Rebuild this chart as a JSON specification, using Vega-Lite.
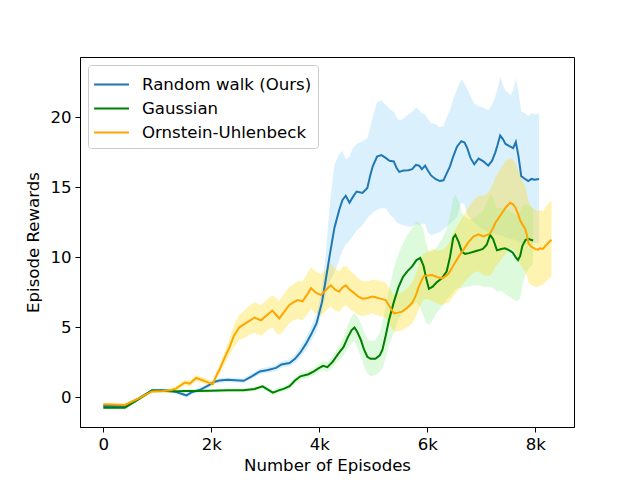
{
  "$schema": "https://vega.github.io/schema/vega-lite/v6.json",
  "width": 494,
  "height": 370,
  "autosize": {"type": "none"},
  "padding": {"left": 80, "top": 57, "right": 66, "bottom": 53},
  "background": "white",
  "data": {
    "values": [
      {"series": "Random walk (Ours)", "episode": 0, "reward": -0.62, "lower": -0.74, "upper": -0.5},
      {"series": "Random walk (Ours)", "episode": 400, "reward": -0.62, "lower": -0.74, "upper": -0.5},
      {"series": "Random walk (Ours)", "episode": 650, "reward": -0.1, "lower": -0.22, "upper": 0.02},
      {"series": "Random walk (Ours)", "episode": 900, "reward": 0.48, "lower": 0.36, "upper": 0.6},
      {"series": "Random walk (Ours)", "episode": 1100, "reward": 0.5, "lower": 0.37, "upper": 0.63},
      {"series": "Random walk (Ours)", "episode": 1300, "reward": 0.45, "lower": 0.32, "upper": 0.6},
      {"series": "Random walk (Ours)", "episode": 1450, "reward": 0.25, "lower": 0.1, "upper": 0.4},
      {"series": "Random walk (Ours)", "episode": 1540, "reward": 0.14, "lower": -0.01, "upper": 0.3},
      {"series": "Random walk (Ours)", "episode": 1650, "reward": 0.38, "lower": 0.23, "upper": 0.53},
      {"series": "Random walk (Ours)", "episode": 1800, "reward": 0.55, "lower": 0.4, "upper": 0.7},
      {"series": "Random walk (Ours)", "episode": 1950, "reward": 0.85, "lower": 0.7, "upper": 1.0},
      {"series": "Random walk (Ours)", "episode": 2050, "reward": 1.1, "lower": 0.95, "upper": 1.27},
      {"series": "Random walk (Ours)", "episode": 2150, "reward": 1.2, "lower": 1.03, "upper": 1.37},
      {"series": "Random walk (Ours)", "episode": 2300, "reward": 1.25, "lower": 1.08, "upper": 1.42},
      {"series": "Random walk (Ours)", "episode": 2450, "reward": 1.22, "lower": 1.05, "upper": 1.4},
      {"series": "Random walk (Ours)", "episode": 2600, "reward": 1.18, "lower": 1.0, "upper": 1.36},
      {"series": "Random walk (Ours)", "episode": 2750, "reward": 1.5, "lower": 1.3, "upper": 1.7},
      {"series": "Random walk (Ours)", "episode": 2900, "reward": 1.85, "lower": 1.65, "upper": 2.05},
      {"series": "Random walk (Ours)", "episode": 3050, "reward": 1.95, "lower": 1.75, "upper": 2.17},
      {"series": "Random walk (Ours)", "episode": 3200, "reward": 2.1, "lower": 1.88, "upper": 2.32},
      {"series": "Random walk (Ours)", "episode": 3300, "reward": 2.35, "lower": 2.12, "upper": 2.58},
      {"series": "Random walk (Ours)", "episode": 3450, "reward": 2.45, "lower": 2.2, "upper": 2.72},
      {"series": "Random walk (Ours)", "episode": 3550, "reward": 2.75, "lower": 2.45, "upper": 3.05},
      {"series": "Random walk (Ours)", "episode": 3650, "reward": 3.2, "lower": 2.82, "upper": 3.62},
      {"series": "Random walk (Ours)", "episode": 3750, "reward": 3.8, "lower": 3.35, "upper": 4.28},
      {"series": "Random walk (Ours)", "episode": 3850, "reward": 4.5, "lower": 3.98, "upper": 5.05},
      {"series": "Random walk (Ours)", "episode": 3950, "reward": 5.3, "lower": 4.7, "upper": 5.95},
      {"series": "Random walk (Ours)", "episode": 4050, "reward": 6.8, "lower": 6.1, "upper": 7.8},
      {"series": "Random walk (Ours)", "episode": 4120, "reward": 8.4, "lower": 7.2, "upper": 10.3},
      {"series": "Random walk (Ours)", "episode": 4200, "reward": 10.3, "lower": 8.3, "upper": 14.0},
      {"series": "Random walk (Ours)", "episode": 4280, "reward": 12.1, "lower": 8.9, "upper": 16.6},
      {"series": "Random walk (Ours)", "episode": 4370, "reward": 13.4, "lower": 9.8, "upper": 17.4},
      {"series": "Random walk (Ours)", "episode": 4430, "reward": 14.1, "lower": 10.5, "upper": 17.6},
      {"series": "Random walk (Ours)", "episode": 4490, "reward": 14.4, "lower": 10.9, "upper": 17.0},
      {"series": "Random walk (Ours)", "episode": 4560, "reward": 13.9, "lower": 11.2, "upper": 17.2},
      {"series": "Random walk (Ours)", "episode": 4620, "reward": 14.3, "lower": 11.5, "upper": 17.8},
      {"series": "Random walk (Ours)", "episode": 4690, "reward": 14.7, "lower": 11.9, "upper": 18.1},
      {"series": "Random walk (Ours)", "episode": 4800, "reward": 14.6, "lower": 12.3, "upper": 18.3},
      {"series": "Random walk (Ours)", "episode": 4890, "reward": 14.95, "lower": 12.8, "upper": 18.5},
      {"series": "Random walk (Ours)", "episode": 4940, "reward": 15.8, "lower": 13.0, "upper": 19.2},
      {"series": "Random walk (Ours)", "episode": 4990, "reward": 16.5, "lower": 13.2, "upper": 20.0},
      {"series": "Random walk (Ours)", "episode": 5070, "reward": 17.2, "lower": 13.4, "upper": 21.1},
      {"series": "Random walk (Ours)", "episode": 5150, "reward": 17.3, "lower": 13.5, "upper": 21.2},
      {"series": "Random walk (Ours)", "episode": 5230, "reward": 17.1, "lower": 13.5, "upper": 20.9},
      {"series": "Random walk (Ours)", "episode": 5300, "reward": 16.9, "lower": 13.1, "upper": 20.6},
      {"series": "Random walk (Ours)", "episode": 5380, "reward": 16.85, "lower": 12.8, "upper": 20.4},
      {"series": "Random walk (Ours)", "episode": 5430, "reward": 16.4, "lower": 12.5, "upper": 20.0},
      {"series": "Random walk (Ours)", "episode": 5480, "reward": 16.1, "lower": 12.4, "upper": 19.8},
      {"series": "Random walk (Ours)", "episode": 5560, "reward": 16.2, "lower": 12.3, "upper": 19.9},
      {"series": "Random walk (Ours)", "episode": 5650, "reward": 16.22, "lower": 12.2, "upper": 20.2},
      {"series": "Random walk (Ours)", "episode": 5720, "reward": 16.3, "lower": 12.2, "upper": 20.4},
      {"series": "Random walk (Ours)", "episode": 5790, "reward": 16.6, "lower": 12.4, "upper": 20.7},
      {"series": "Random walk (Ours)", "episode": 5850, "reward": 16.55, "lower": 12.3, "upper": 20.5},
      {"series": "Random walk (Ours)", "episode": 5900, "reward": 16.3, "lower": 12.4, "upper": 20.3},
      {"series": "Random walk (Ours)", "episode": 5960, "reward": 16.55, "lower": 12.4, "upper": 20.2},
      {"series": "Random walk (Ours)", "episode": 6010, "reward": 16.2, "lower": 11.8, "upper": 19.9},
      {"series": "Random walk (Ours)", "episode": 6070, "reward": 15.85, "lower": 11.6, "upper": 19.6},
      {"series": "Random walk (Ours)", "episode": 6150, "reward": 15.6, "lower": 11.7, "upper": 19.5},
      {"series": "Random walk (Ours)", "episode": 6230, "reward": 15.45, "lower": 11.8, "upper": 19.3},
      {"series": "Random walk (Ours)", "episode": 6300, "reward": 15.5, "lower": 12.0, "upper": 19.4},
      {"series": "Random walk (Ours)", "episode": 6360, "reward": 16.0, "lower": 12.2, "upper": 20.0},
      {"series": "Random walk (Ours)", "episode": 6420, "reward": 16.5, "lower": 12.4, "upper": 20.5},
      {"series": "Random walk (Ours)", "episode": 6480, "reward": 17.2, "lower": 12.6, "upper": 21.3},
      {"series": "Random walk (Ours)", "episode": 6550, "reward": 17.9, "lower": 12.9, "upper": 22.0},
      {"series": "Random walk (Ours)", "episode": 6630, "reward": 18.3, "lower": 13.9, "upper": 22.7},
      {"series": "Random walk (Ours)", "episode": 6690, "reward": 18.2, "lower": 13.8, "upper": 22.4},
      {"series": "Random walk (Ours)", "episode": 6740, "reward": 17.8, "lower": 13.1, "upper": 22.0},
      {"series": "Random walk (Ours)", "episode": 6800, "reward": 17.1, "lower": 12.8, "upper": 21.5},
      {"series": "Random walk (Ours)", "episode": 6870, "reward": 16.65, "lower": 12.5, "upper": 21.0},
      {"series": "Random walk (Ours)", "episode": 6950, "reward": 17.05, "lower": 12.2, "upper": 20.8},
      {"series": "Random walk (Ours)", "episode": 7040, "reward": 16.85, "lower": 12.0, "upper": 20.7},
      {"series": "Random walk (Ours)", "episode": 7130, "reward": 16.55, "lower": 11.8, "upper": 20.5},
      {"series": "Random walk (Ours)", "episode": 7200, "reward": 16.9, "lower": 11.7, "upper": 20.9},
      {"series": "Random walk (Ours)", "episode": 7260, "reward": 17.5, "lower": 11.7, "upper": 21.5},
      {"series": "Random walk (Ours)", "episode": 7300, "reward": 18.0, "lower": 11.6, "upper": 22.0},
      {"series": "Random walk (Ours)", "episode": 7350, "reward": 18.7, "lower": 11.6, "upper": 22.9},
      {"series": "Random walk (Ours)", "episode": 7400, "reward": 18.45, "lower": 11.5, "upper": 22.3},
      {"series": "Random walk (Ours)", "episode": 7450, "reward": 18.1, "lower": 11.4, "upper": 21.9},
      {"series": "Random walk (Ours)", "episode": 7540, "reward": 17.9, "lower": 11.3, "upper": 21.6},
      {"series": "Random walk (Ours)", "episode": 7590, "reward": 17.8, "lower": 11.3, "upper": 21.9},
      {"series": "Random walk (Ours)", "episode": 7640, "reward": 18.25, "lower": 11.2, "upper": 22.8},
      {"series": "Random walk (Ours)", "episode": 7690, "reward": 17.2, "lower": 11.1, "upper": 21.8},
      {"series": "Random walk (Ours)", "episode": 7740, "reward": 15.8, "lower": 11.0, "upper": 20.4},
      {"series": "Random walk (Ours)", "episode": 7810, "reward": 15.6, "lower": 11.0, "upper": 20.3},
      {"series": "Random walk (Ours)", "episode": 7870, "reward": 15.45, "lower": 11.0, "upper": 20.1},
      {"series": "Random walk (Ours)", "episode": 7930, "reward": 15.6, "lower": 11.0, "upper": 20.3},
      {"series": "Random walk (Ours)", "episode": 7990, "reward": 15.55, "lower": 11.0, "upper": 20.2},
      {"series": "Random walk (Ours)", "episode": 8070, "reward": 15.6, "lower": 11.0, "upper": 20.3},
      {"series": "Gaussian", "episode": 0, "reward": -0.74, "lower": -0.86, "upper": -0.62},
      {"series": "Gaussian", "episode": 400, "reward": -0.74, "lower": -0.86, "upper": -0.62},
      {"series": "Gaussian", "episode": 650, "reward": -0.15, "lower": -0.27, "upper": -0.03},
      {"series": "Gaussian", "episode": 900, "reward": 0.48, "lower": 0.36, "upper": 0.6},
      {"series": "Gaussian", "episode": 1100, "reward": 0.47, "lower": 0.35, "upper": 0.59},
      {"series": "Gaussian", "episode": 1300, "reward": 0.42, "lower": 0.3, "upper": 0.54},
      {"series": "Gaussian", "episode": 1500, "reward": 0.45, "lower": 0.33, "upper": 0.57},
      {"series": "Gaussian", "episode": 1700, "reward": 0.45, "lower": 0.33, "upper": 0.57},
      {"series": "Gaussian", "episode": 2000, "reward": 0.47, "lower": 0.35, "upper": 0.6},
      {"series": "Gaussian", "episode": 2300, "reward": 0.5, "lower": 0.37, "upper": 0.63},
      {"series": "Gaussian", "episode": 2600, "reward": 0.5, "lower": 0.36, "upper": 0.64},
      {"series": "Gaussian", "episode": 2800, "reward": 0.6, "lower": 0.45, "upper": 0.75},
      {"series": "Gaussian", "episode": 2950, "reward": 0.78, "lower": 0.62, "upper": 0.94},
      {"series": "Gaussian", "episode": 3050, "reward": 0.55, "lower": 0.38, "upper": 0.72},
      {"series": "Gaussian", "episode": 3140, "reward": 0.33, "lower": 0.15, "upper": 0.52},
      {"series": "Gaussian", "episode": 3250, "reward": 0.5, "lower": 0.3, "upper": 0.7},
      {"series": "Gaussian", "episode": 3350, "reward": 0.62, "lower": 0.42, "upper": 0.82},
      {"series": "Gaussian", "episode": 3450, "reward": 0.8, "lower": 0.58, "upper": 1.02},
      {"series": "Gaussian", "episode": 3550, "reward": 1.2, "lower": 0.97, "upper": 1.43},
      {"series": "Gaussian", "episode": 3650, "reward": 1.5, "lower": 1.25, "upper": 1.75},
      {"series": "Gaussian", "episode": 3800, "reward": 1.65, "lower": 1.4, "upper": 1.9},
      {"series": "Gaussian", "episode": 3900, "reward": 1.85, "lower": 1.58, "upper": 2.12},
      {"series": "Gaussian", "episode": 4000, "reward": 2.1, "lower": 1.8, "upper": 2.4},
      {"series": "Gaussian", "episode": 4070, "reward": 2.25, "lower": 1.93, "upper": 2.57},
      {"series": "Gaussian", "episode": 4150, "reward": 2.15, "lower": 1.8, "upper": 2.5},
      {"series": "Gaussian", "episode": 4250, "reward": 2.55, "lower": 2.15, "upper": 2.95},
      {"series": "Gaussian", "episode": 4350, "reward": 3.1, "lower": 2.6, "upper": 3.6},
      {"series": "Gaussian", "episode": 4450, "reward": 3.6, "lower": 3.0, "upper": 4.3},
      {"series": "Gaussian", "episode": 4530, "reward": 4.3, "lower": 3.5, "upper": 5.2},
      {"series": "Gaussian", "episode": 4600, "reward": 4.8, "lower": 3.9, "upper": 5.8},
      {"series": "Gaussian", "episode": 4650, "reward": 4.98, "lower": 4.0, "upper": 6.0},
      {"series": "Gaussian", "episode": 4700, "reward": 4.7, "lower": 3.6, "upper": 5.8},
      {"series": "Gaussian", "episode": 4770, "reward": 4.1, "lower": 2.9, "upper": 5.3},
      {"series": "Gaussian", "episode": 4830, "reward": 3.4, "lower": 2.2, "upper": 4.7},
      {"series": "Gaussian", "episode": 4890, "reward": 2.9, "lower": 1.7, "upper": 4.2},
      {"series": "Gaussian", "episode": 4950, "reward": 2.75, "lower": 1.5, "upper": 4.0},
      {"series": "Gaussian", "episode": 5040, "reward": 2.75, "lower": 1.6, "upper": 4.1},
      {"series": "Gaussian", "episode": 5120, "reward": 3.0, "lower": 1.8, "upper": 4.6},
      {"series": "Gaussian", "episode": 5170, "reward": 3.4, "lower": 2.1, "upper": 5.3},
      {"series": "Gaussian", "episode": 5230, "reward": 4.4, "lower": 2.8, "upper": 6.5},
      {"series": "Gaussian", "episode": 5290, "reward": 5.5, "lower": 3.7, "upper": 7.7},
      {"series": "Gaussian", "episode": 5380, "reward": 6.8, "lower": 4.6, "upper": 9.2},
      {"series": "Gaussian", "episode": 5470, "reward": 7.9, "lower": 5.6, "upper": 10.3},
      {"series": "Gaussian", "episode": 5550, "reward": 8.6, "lower": 6.0, "upper": 11.0},
      {"series": "Gaussian", "episode": 5630, "reward": 9.0, "lower": 6.3, "upper": 11.6},
      {"series": "Gaussian", "episode": 5720, "reward": 9.35, "lower": 6.6, "upper": 12.1},
      {"series": "Gaussian", "episode": 5800, "reward": 9.8, "lower": 6.8, "upper": 12.6},
      {"series": "Gaussian", "episode": 5870, "reward": 9.95, "lower": 6.4, "upper": 12.4},
      {"series": "Gaussian", "episode": 5930, "reward": 9.4, "lower": 5.8, "upper": 12.0},
      {"series": "Gaussian", "episode": 5980, "reward": 8.5, "lower": 5.3, "upper": 11.0},
      {"series": "Gaussian", "episode": 6030, "reward": 7.75, "lower": 5.2, "upper": 10.4},
      {"series": "Gaussian", "episode": 6100, "reward": 7.9, "lower": 5.5, "upper": 10.4},
      {"series": "Gaussian", "episode": 6170, "reward": 8.2, "lower": 6.0, "upper": 10.7},
      {"series": "Gaussian", "episode": 6270, "reward": 8.5, "lower": 6.5, "upper": 11.3},
      {"series": "Gaussian", "episode": 6360, "reward": 9.0, "lower": 7.0, "upper": 12.0},
      {"series": "Gaussian", "episode": 6420, "reward": 10.0, "lower": 7.2, "upper": 13.0},
      {"series": "Gaussian", "episode": 6480, "reward": 11.4, "lower": 7.5, "upper": 14.2},
      {"series": "Gaussian", "episode": 6520, "reward": 11.6, "lower": 7.7, "upper": 14.5},
      {"series": "Gaussian", "episode": 6580, "reward": 11.1, "lower": 7.8, "upper": 14.0},
      {"series": "Gaussian", "episode": 6640, "reward": 10.4, "lower": 7.8, "upper": 13.2},
      {"series": "Gaussian", "episode": 6700, "reward": 10.25, "lower": 7.9, "upper": 12.9},
      {"series": "Gaussian", "episode": 6770, "reward": 10.3, "lower": 7.9, "upper": 12.7},
      {"series": "Gaussian", "episode": 6860, "reward": 10.4, "lower": 8.0, "upper": 12.8},
      {"series": "Gaussian", "episode": 6950, "reward": 10.5, "lower": 8.0, "upper": 13.0},
      {"series": "Gaussian", "episode": 7030, "reward": 10.6, "lower": 7.9, "upper": 13.3},
      {"series": "Gaussian", "episode": 7100, "reward": 10.9, "lower": 7.9, "upper": 13.9},
      {"series": "Gaussian", "episode": 7165, "reward": 11.6, "lower": 7.9, "upper": 14.5},
      {"series": "Gaussian", "episode": 7220, "reward": 11.3, "lower": 7.8, "upper": 14.2},
      {"series": "Gaussian", "episode": 7290, "reward": 10.5, "lower": 7.6, "upper": 13.5},
      {"series": "Gaussian", "episode": 7370, "reward": 10.6, "lower": 7.6, "upper": 13.5},
      {"series": "Gaussian", "episode": 7440, "reward": 10.65, "lower": 7.4, "upper": 13.5},
      {"series": "Gaussian", "episode": 7520, "reward": 10.5, "lower": 7.2, "upper": 13.3},
      {"series": "Gaussian", "episode": 7580, "reward": 10.35, "lower": 7.0, "upper": 13.2},
      {"series": "Gaussian", "episode": 7640, "reward": 10.0, "lower": 6.9, "upper": 13.0},
      {"series": "Gaussian", "episode": 7680, "reward": 9.8, "lower": 6.9, "upper": 13.0},
      {"series": "Gaussian", "episode": 7720, "reward": 10.1, "lower": 7.1, "upper": 13.3},
      {"series": "Gaussian", "episode": 7760, "reward": 10.8, "lower": 8.0, "upper": 13.6},
      {"series": "Gaussian", "episode": 7820, "reward": 11.25, "lower": 8.8, "upper": 13.8},
      {"series": "Gaussian", "episode": 7880, "reward": 11.3, "lower": 9.2, "upper": 13.7},
      {"series": "Gaussian", "episode": 7960, "reward": 11.2, "lower": 9.5, "upper": 13.5},
      {"series": "Ornstein-Uhlenbeck", "episode": 0, "reward": -0.5, "lower": -0.62, "upper": -0.38},
      {"series": "Ornstein-Uhlenbeck", "episode": 400, "reward": -0.55, "lower": -0.67, "upper": -0.43},
      {"series": "Ornstein-Uhlenbeck", "episode": 650, "reward": -0.1, "lower": -0.22, "upper": 0.02},
      {"series": "Ornstein-Uhlenbeck", "episode": 900, "reward": 0.42, "lower": 0.3, "upper": 0.54},
      {"series": "Ornstein-Uhlenbeck", "episode": 1100, "reward": 0.45, "lower": 0.33, "upper": 0.57},
      {"series": "Ornstein-Uhlenbeck", "episode": 1250, "reward": 0.5, "lower": 0.37, "upper": 0.63},
      {"series": "Ornstein-Uhlenbeck", "episode": 1354, "reward": 0.64, "lower": 0.48, "upper": 0.8},
      {"series": "Ornstein-Uhlenbeck", "episode": 1450, "reward": 0.9, "lower": 0.72, "upper": 1.08},
      {"series": "Ornstein-Uhlenbeck", "episode": 1510, "reward": 1.05, "lower": 0.86, "upper": 1.24},
      {"series": "Ornstein-Uhlenbeck", "episode": 1600, "reward": 0.98, "lower": 0.78, "upper": 1.18},
      {"series": "Ornstein-Uhlenbeck", "episode": 1720, "reward": 1.38, "lower": 1.16, "upper": 1.6},
      {"series": "Ornstein-Uhlenbeck", "episode": 1850, "reward": 1.2, "lower": 0.98, "upper": 1.42},
      {"series": "Ornstein-Uhlenbeck", "episode": 1950, "reward": 1.05, "lower": 0.83, "upper": 1.27},
      {"series": "Ornstein-Uhlenbeck", "episode": 2030, "reward": 0.95, "lower": 0.72, "upper": 1.18},
      {"series": "Ornstein-Uhlenbeck", "episode": 2100, "reward": 1.6, "lower": 1.3, "upper": 1.9},
      {"series": "Ornstein-Uhlenbeck", "episode": 2150, "reward": 1.95, "lower": 1.6, "upper": 2.3},
      {"series": "Ornstein-Uhlenbeck", "episode": 2210, "reward": 2.5, "lower": 2.1, "upper": 2.9},
      {"series": "Ornstein-Uhlenbeck", "episode": 2280, "reward": 3.1, "lower": 2.6, "upper": 3.6},
      {"series": "Ornstein-Uhlenbeck", "episode": 2340, "reward": 3.6, "lower": 3.0, "upper": 4.2},
      {"series": "Ornstein-Uhlenbeck", "episode": 2420, "reward": 4.4, "lower": 3.6, "upper": 5.2},
      {"series": "Ornstein-Uhlenbeck", "episode": 2520, "reward": 5.0, "lower": 4.1, "upper": 5.9},
      {"series": "Ornstein-Uhlenbeck", "episode": 2640, "reward": 5.3, "lower": 4.3, "upper": 6.3},
      {"series": "Ornstein-Uhlenbeck", "episode": 2720, "reward": 5.5, "lower": 4.5, "upper": 6.6},
      {"series": "Ornstein-Uhlenbeck", "episode": 2800, "reward": 5.7, "lower": 4.6, "upper": 6.8},
      {"series": "Ornstein-Uhlenbeck", "episode": 2920, "reward": 5.5, "lower": 4.4, "upper": 6.6},
      {"series": "Ornstein-Uhlenbeck", "episode": 3040, "reward": 5.9, "lower": 4.8, "upper": 7.0},
      {"series": "Ornstein-Uhlenbeck", "episode": 3130, "reward": 6.2, "lower": 5.0, "upper": 7.3},
      {"series": "Ornstein-Uhlenbeck", "episode": 3200, "reward": 5.9, "lower": 4.6, "upper": 7.1},
      {"series": "Ornstein-Uhlenbeck", "episode": 3260, "reward": 5.64, "lower": 4.45, "upper": 6.9},
      {"series": "Ornstein-Uhlenbeck", "episode": 3350, "reward": 6.1, "lower": 4.8, "upper": 7.4},
      {"series": "Ornstein-Uhlenbeck", "episode": 3445, "reward": 6.6, "lower": 5.3, "upper": 7.9},
      {"series": "Ornstein-Uhlenbeck", "episode": 3530, "reward": 6.8, "lower": 5.5, "upper": 8.1},
      {"series": "Ornstein-Uhlenbeck", "episode": 3600, "reward": 6.95, "lower": 5.6, "upper": 8.3},
      {"series": "Ornstein-Uhlenbeck", "episode": 3690, "reward": 6.85, "lower": 5.5, "upper": 8.3},
      {"series": "Ornstein-Uhlenbeck", "episode": 3770, "reward": 7.3, "lower": 5.9, "upper": 8.8},
      {"series": "Ornstein-Uhlenbeck", "episode": 3845, "reward": 7.8, "lower": 6.3, "upper": 9.3},
      {"series": "Ornstein-Uhlenbeck", "episode": 3930, "reward": 7.5, "lower": 6.0, "upper": 9.0},
      {"series": "Ornstein-Uhlenbeck", "episode": 4030, "reward": 7.3, "lower": 5.8, "upper": 8.8},
      {"series": "Ornstein-Uhlenbeck", "episode": 4130, "reward": 7.7, "lower": 6.2, "upper": 9.2},
      {"series": "Ornstein-Uhlenbeck", "episode": 4214, "reward": 8.0, "lower": 6.5, "upper": 9.6},
      {"series": "Ornstein-Uhlenbeck", "episode": 4290, "reward": 7.7, "lower": 6.2, "upper": 9.2},
      {"series": "Ornstein-Uhlenbeck", "episode": 4367, "reward": 7.55, "lower": 6.1, "upper": 9.0},
      {"series": "Ornstein-Uhlenbeck", "episode": 4430, "reward": 7.85, "lower": 6.4, "upper": 9.3},
      {"series": "Ornstein-Uhlenbeck", "episode": 4490, "reward": 8.0, "lower": 6.6, "upper": 9.4},
      {"series": "Ornstein-Uhlenbeck", "episode": 4560, "reward": 7.7, "lower": 6.3, "upper": 9.1},
      {"series": "Ornstein-Uhlenbeck", "episode": 4644, "reward": 7.45, "lower": 6.1, "upper": 8.8},
      {"series": "Ornstein-Uhlenbeck", "episode": 4720, "reward": 7.2, "lower": 5.9, "upper": 8.5},
      {"series": "Ornstein-Uhlenbeck", "episode": 4800, "reward": 7.05, "lower": 5.8, "upper": 8.3},
      {"series": "Ornstein-Uhlenbeck", "episode": 4900, "reward": 7.1, "lower": 5.9, "upper": 8.3},
      {"series": "Ornstein-Uhlenbeck", "episode": 4980, "reward": 7.2, "lower": 6.0, "upper": 8.4},
      {"series": "Ornstein-Uhlenbeck", "episode": 5044, "reward": 7.15, "lower": 5.9, "upper": 8.4},
      {"series": "Ornstein-Uhlenbeck", "episode": 5130, "reward": 7.05, "lower": 5.8, "upper": 8.3},
      {"series": "Ornstein-Uhlenbeck", "episode": 5228, "reward": 6.95, "lower": 5.7, "upper": 8.2},
      {"series": "Ornstein-Uhlenbeck", "episode": 5300, "reward": 6.5, "lower": 5.2, "upper": 7.8},
      {"series": "Ornstein-Uhlenbeck", "episode": 5382, "reward": 6.0, "lower": 4.7, "upper": 7.3},
      {"series": "Ornstein-Uhlenbeck", "episode": 5460, "reward": 6.05, "lower": 4.7, "upper": 7.4},
      {"series": "Ornstein-Uhlenbeck", "episode": 5535, "reward": 6.12, "lower": 4.8, "upper": 7.5},
      {"series": "Ornstein-Uhlenbeck", "episode": 5630, "reward": 6.4, "lower": 5.0, "upper": 7.8},
      {"series": "Ornstein-Uhlenbeck", "episode": 5720, "reward": 6.75, "lower": 5.3, "upper": 8.2},
      {"series": "Ornstein-Uhlenbeck", "episode": 5790, "reward": 7.3, "lower": 5.8, "upper": 8.8},
      {"series": "Ornstein-Uhlenbeck", "episode": 5843, "reward": 7.9, "lower": 6.3, "upper": 9.5},
      {"series": "Ornstein-Uhlenbeck", "episode": 5900, "reward": 8.4, "lower": 6.8, "upper": 10.0},
      {"series": "Ornstein-Uhlenbeck", "episode": 5935, "reward": 8.66, "lower": 7.0, "upper": 10.3},
      {"series": "Ornstein-Uhlenbeck", "episode": 6010, "reward": 8.7, "lower": 7.0, "upper": 10.4},
      {"series": "Ornstein-Uhlenbeck", "episode": 6089, "reward": 8.74, "lower": 6.9, "upper": 10.6},
      {"series": "Ornstein-Uhlenbeck", "episode": 6180, "reward": 8.6, "lower": 6.7, "upper": 10.5},
      {"series": "Ornstein-Uhlenbeck", "episode": 6273, "reward": 8.5, "lower": 6.6, "upper": 10.5},
      {"series": "Ornstein-Uhlenbeck", "episode": 6340, "reward": 8.65, "lower": 6.7, "upper": 10.7},
      {"series": "Ornstein-Uhlenbeck", "episode": 6397, "reward": 8.86, "lower": 6.8, "upper": 11.0},
      {"series": "Ornstein-Uhlenbeck", "episode": 6480, "reward": 9.4, "lower": 7.2, "upper": 11.7},
      {"series": "Ornstein-Uhlenbeck", "episode": 6581, "reward": 10.05, "lower": 7.7, "upper": 12.4},
      {"series": "Ornstein-Uhlenbeck", "episode": 6680, "reward": 10.6, "lower": 8.2, "upper": 13.0},
      {"series": "Ornstein-Uhlenbeck", "episode": 6766, "reward": 11.1, "lower": 8.6, "upper": 13.6},
      {"series": "Ornstein-Uhlenbeck", "episode": 6860, "reward": 11.5, "lower": 8.9, "upper": 14.1},
      {"series": "Ornstein-Uhlenbeck", "episode": 6950, "reward": 11.65, "lower": 9.0, "upper": 14.4},
      {"series": "Ornstein-Uhlenbeck", "episode": 7042, "reward": 11.5, "lower": 8.7, "upper": 14.4},
      {"series": "Ornstein-Uhlenbeck", "episode": 7110, "reward": 11.6, "lower": 8.7, "upper": 14.6},
      {"series": "Ornstein-Uhlenbeck", "episode": 7165, "reward": 11.7, "lower": 8.7, "upper": 14.8},
      {"series": "Ornstein-Uhlenbeck", "episode": 7220, "reward": 12.1, "lower": 9.0, "upper": 15.3},
      {"series": "Ornstein-Uhlenbeck", "episode": 7258, "reward": 12.45, "lower": 9.3, "upper": 15.7},
      {"series": "Ornstein-Uhlenbeck", "episode": 7320, "reward": 12.8, "lower": 9.6, "upper": 16.1},
      {"series": "Ornstein-Uhlenbeck", "episode": 7380, "reward": 13.15, "lower": 9.9, "upper": 16.5},
      {"series": "Ornstein-Uhlenbeck", "episode": 7460, "reward": 13.6, "lower": 10.3, "upper": 16.9},
      {"series": "Ornstein-Uhlenbeck", "episode": 7535, "reward": 13.9, "lower": 10.7, "upper": 17.1},
      {"series": "Ornstein-Uhlenbeck", "episode": 7580, "reward": 13.8, "lower": 10.6, "upper": 17.0},
      {"series": "Ornstein-Uhlenbeck", "episode": 7627, "reward": 13.6, "lower": 10.4, "upper": 16.8},
      {"series": "Ornstein-Uhlenbeck", "episode": 7680, "reward": 13.1, "lower": 9.9, "upper": 16.3},
      {"series": "Ornstein-Uhlenbeck", "episode": 7719, "reward": 12.65, "lower": 9.5, "upper": 15.9},
      {"series": "Ornstein-Uhlenbeck", "episode": 7770, "reward": 12.3, "lower": 9.2, "upper": 15.4},
      {"series": "Ornstein-Uhlenbeck", "episode": 7812, "reward": 12.05, "lower": 9.0, "upper": 15.1},
      {"series": "Ornstein-Uhlenbeck", "episode": 7850, "reward": 11.5, "lower": 8.6, "upper": 14.5},
      {"series": "Ornstein-Uhlenbeck", "episode": 7873, "reward": 11.0, "lower": 8.2, "upper": 14.0},
      {"series": "Ornstein-Uhlenbeck", "episode": 7930, "reward": 10.75, "lower": 8.0, "upper": 13.6},
      {"series": "Ornstein-Uhlenbeck", "episode": 7996, "reward": 10.6, "lower": 7.9, "upper": 13.4},
      {"series": "Ornstein-Uhlenbeck", "episode": 8050, "reward": 10.55, "lower": 7.9, "upper": 13.3},
      {"series": "Ornstein-Uhlenbeck", "episode": 8088, "reward": 10.65, "lower": 8.0, "upper": 13.4},
      {"series": "Ornstein-Uhlenbeck", "episode": 8140, "reward": 10.6, "lower": 8.0, "upper": 13.3},
      {"series": "Ornstein-Uhlenbeck", "episode": 8181, "reward": 10.78, "lower": 8.2, "upper": 13.5},
      {"series": "Ornstein-Uhlenbeck", "episode": 8230, "reward": 11.0, "lower": 8.4, "upper": 13.8},
      {"series": "Ornstein-Uhlenbeck", "episode": 8300, "reward": 11.25, "lower": 8.6, "upper": 14.1}
    ]
  },
  "encoding": {
    "x": {
      "field": "episode",
      "type": "quantitative",
      "title": "Number of Episodes",
      "scale": {"domain": [-431, 8717], "nice": false, "zero": false},
      "axis": {
        "values": [0, 2000, 4000, 6000, 8000],
        "labelExpr": "datum.value == 0 ? '0' : (datum.value / 1000) + 'k'",
        "titlePadding": 5
      }
    }
  },
  "layer": [
    {
      "mark": {"type": "area", "opacity": 0.3},
      "encoding": {
        "y": {"field": "lower", "type": "quantitative"},
        "y2": {"field": "upper"},
        "color": {
          "field": "series",
          "type": "nominal",
          "scale": {
            "domain": ["Random walk (Ours)", "Gaussian", "Ornstein-Uhlenbeck"],
            "range": ["#87cefa", "#90ee90", "#ffd700"]
          },
          "legend": null
        }
      }
    },
    {
      "mark": {"type": "line", "strokeWidth": 2},
      "encoding": {
        "y": {
          "field": "reward",
          "type": "quantitative",
          "title": "Episode Rewards",
          "scale": {"domain": [-2.12, 24.31], "nice": false, "zero": false},
          "axis": {"values": [0, 5, 10, 15, 20], "titlePadding": 8}
        },
        "color": {
          "field": "series",
          "type": "nominal",
          "scale": {
            "domain": ["Random walk (Ours)", "Gaussian", "Ornstein-Uhlenbeck"],
            "range": ["#1f77b4", "#008000", "#ffa500"]
          },
          "legend": {
            "title": null,
            "orient": "top-left",
            "offset": 8,
            "symbolType": "M-1.08,0H1.72",
            "symbolSize": 625,
            "symbolStrokeWidth": 2,
            "labelFontSize": 16.6,
            "labelFont": "DejaVu Sans",
            "labelColor": "black",
            "labelLimit": 400,
            "labelOffset": 21,
            "rowPadding": 1,
            "padding": 6,
            "strokeColor": "#cccccc",
            "fillColor": "rgba(255,255,255,0.8)",
            "cornerRadius": 3
          }
        }
      }
    }
  ],
  "resolve": {"scale": {"color": "independent"}},
  "config": {
    "view": {"stroke": "black", "strokeWidth": 1},
    "axis": {
      "grid": false,
      "labelFont": "DejaVu Sans",
      "labelFontSize": 16.6,
      "labelColor": "black",
      "titleFont": "DejaVu Sans",
      "titleFontSize": 16.6,
      "titleFontWeight": "normal",
      "titleColor": "black",
      "tickColor": "black",
      "domainColor": "black",
      "tickSize": 5,
      "labelPadding": 4
    }
  }
}
